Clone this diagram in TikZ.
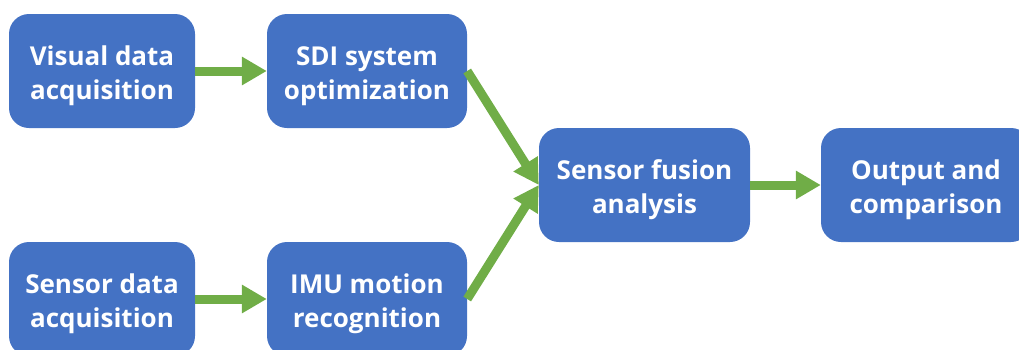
\documentclass[tikz,border=0pt]{standalone}
\usepackage{fontspec}
\setmainfont{Open Sans}
\usetikzlibrary{arrows.meta}
\definecolor{boxblue}{HTML}{4472C4}
\definecolor{arrgreen}{HTML}{70AD47}
\newcommand\twolines[2]{\raisebox{-5pt}[\height][\depth]{\begin{tabular}{@{}c@{}}#1\\#2\end{tabular}}}
\begin{document}
\begin{tikzpicture}[x=1pt,y=-1pt,
  box/.style={fill=boxblue, draw=none, rounded corners=20pt, text=white,
    font=\fontsize{26}{34}\selectfont\bfseries, inner sep=0pt},
  flow/.style={draw=arrgreen, line width=9pt,
    -{Triangle[length=25pt,width=27pt,fill=arrgreen,color=arrgreen]}}]
\useasboundingbox (0,0) rectangle (1019,349);
\clip (0,0) rectangle (1019,349);
\node[box, minimum width=186pt, minimum height=114pt] (v) at (102,71) {\twolines{Visual data}{acquisition}};
\node[box, minimum width=200pt, minimum height=114pt] (s) at (367,71) {\twolines{SDI system}{optimization}};
\node[box, minimum width=186pt, minimum height=114pt] (d) at (102,299) {\twolines{Sensor data}{acquisition}};
\node[box, minimum width=200pt, minimum height=114pt] (m) at (367,299) {\twolines{IMU motion}{recognition}};
\node[box, minimum width=211pt, minimum height=114pt] (f) at (644.5,185) {\twolines{Sensor fusion}{analysis}};
\node[box, minimum width=210pt, minimum height=114pt] (o) at (926,185) {\twolines{Output and}{comparison}};
\draw[flow] (v.east) -- (s.west);
\draw[flow] (d.east) -- (m.west);
\draw[flow] (f.east) -- (o.west);
\draw[flow] (s.east) -- (f.west);
\draw[flow] (m.east) -- (f.west);
\end{tikzpicture}
\end{document}
